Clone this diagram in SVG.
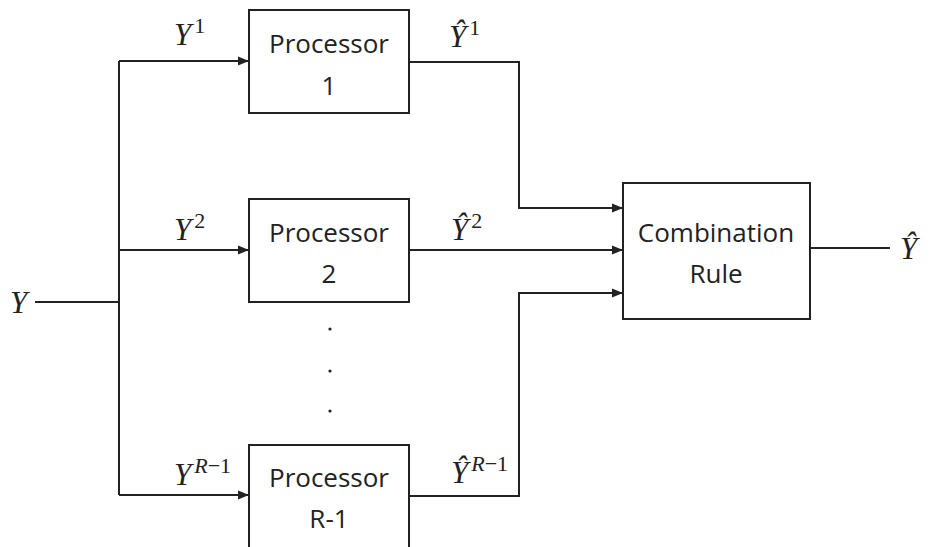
<svg xmlns="http://www.w3.org/2000/svg" width="950" height="547" viewBox="0 0 950 547">
<style>
.box{fill:#fff;stroke:#222;stroke-width:2}
.ln{fill:none;stroke:#222;stroke-width:2}
.t{font-family:"Open Sans","Noto Sans",sans-serif;font-size:26px;fill:#222;text-anchor:middle}
.m{font-family:"Liberation Serif",serif;font-style:italic;font-size:31px;fill:#222}
.s{font-size:22px;font-style:normal}
.si{font-size:22px}
</style>
<defs>
<marker id="ah" markerWidth="11" markerHeight="11" refX="10" refY="5.5" orient="auto" markerUnits="userSpaceOnUse">
<path d="M0,1 L11,5.5 L0,10 Z" fill="#222"/>
</marker>
</defs>
<g id="connectors">
<path class="ln" d="M35,302 H119"/>
<path class="ln" d="M119,61 V495"/>
<path class="ln" d="M119,61 H248" marker-end="url(#ah)"/>
<path class="ln" d="M119,250 H248" marker-end="url(#ah)"/>
<path class="ln" d="M119,495 H248" marker-end="url(#ah)"/>
<path class="ln" d="M409,62 H519 V208 H622" marker-end="url(#ah)"/>
<path class="ln" d="M409,250 H622" marker-end="url(#ah)"/>
<path class="ln" d="M409,496 H519 V293 H622" marker-end="url(#ah)"/>
<path class="ln" d="M810,248 H890"/>
</g>
<g id="proc1">
<rect class="box" x="249" y="10" width="160" height="103"/>
<text class="t" x="329" y="53">Processor</text>
<text class="t" x="329" y="95">1</text>
</g>
<g id="proc2">
<rect class="box" x="249" y="199" width="160" height="103"/>
<text class="t" x="329" y="242">Processor</text>
<text class="t" x="329" y="283">2</text>
</g>
<g id="dots" fill="#222">
<circle cx="330" cy="329" r="1.6"/>
<circle cx="330" cy="371" r="1.6"/>
<circle cx="330" cy="411" r="1.6"/>
</g>
<g id="procR">
<rect class="box" x="249" y="445" width="160" height="110"/>
<text class="t" x="329" y="487">Processor</text>
<text class="t" x="329" y="528">R-1</text>
</g>
<g id="combo">
<rect class="box" x="623" y="183" width="187" height="136"/>
<text class="t" x="716" y="242">Combination</text>
<text class="t" x="716" y="283">Rule</text>
</g>
<g id="labels">
<text class="m" x="10" y="313">Y</text>
<text class="m" x="174" y="45">Y<tspan class="s" dx="3" dy="-12">1</tspan></text>
<text class="m" x="174" y="240">Y<tspan class="s" dx="3" dy="-12">2</tspan></text>
<text class="m" x="174" y="485">Y<tspan class="si" dx="3" dy="-12">R</tspan><tspan class="s">−1</tspan></text>
<text class="m" x="449" y="47">Ŷ<tspan class="s" dx="3" dy="-12">1</tspan></text>
<text class="m" x="451" y="240">Ŷ<tspan class="s" dx="3" dy="-12">2</tspan></text>
<text class="m" x="451" y="483">Ŷ<tspan class="si" dx="3" dy="-12">R</tspan><tspan class="s">−1</tspan></text>
<text class="m" x="900" y="259">Ŷ</text>
</g>
</svg>
